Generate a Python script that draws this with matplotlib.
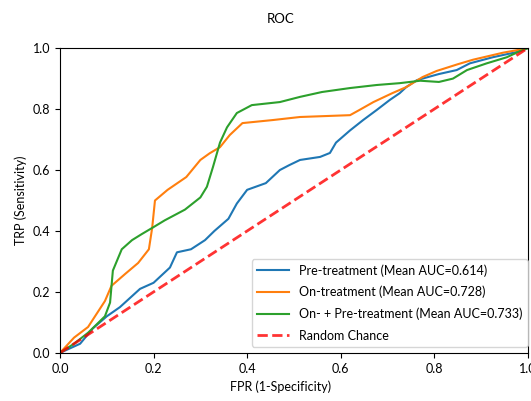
import matplotlib
matplotlib.use("Agg")
import matplotlib.pyplot as plt

plt.rcParams['font.family'] = ['Lato', 'DejaVu Sans']

pre_fpr = [0.0, 0.043, 0.07, 0.1, 0.128, 0.171, 0.2, 0.235, 0.25, 0.28, 0.31, 0.33, 0.36,
           0.378, 0.40, 0.44, 0.47, 0.49, 0.513, 0.556, 0.577, 0.59, 0.62, 0.648, 0.677,
           0.705, 0.726, 0.74, 0.763, 0.81, 0.848, 0.876, 0.925, 0.976, 1.0]
pre_tpr = [0.0, 0.03, 0.08, 0.12, 0.15, 0.21, 0.23, 0.28, 0.33, 0.34, 0.37, 0.40, 0.44,
           0.49, 0.535, 0.557, 0.60, 0.616, 0.633, 0.643, 0.656, 0.69, 0.73, 0.764, 0.797,
           0.83, 0.852, 0.872, 0.895, 0.915, 0.928, 0.95, 0.97, 0.987, 1.0]

on_fpr = [0.0, 0.03, 0.06, 0.096, 0.11, 0.14, 0.167, 0.19, 0.197, 0.203, 0.23, 0.27, 0.30,
          0.32, 0.342, 0.363, 0.39, 0.455, 0.513, 0.62, 0.64, 0.67, 0.71, 0.74, 0.775,
          0.805, 0.85, 0.883, 0.947, 0.983, 1.0]
on_tpr = [0.0, 0.05, 0.085, 0.17, 0.22, 0.26, 0.295, 0.34, 0.41, 0.50, 0.535, 0.577, 0.633,
          0.655, 0.675, 0.715, 0.754, 0.764, 0.774, 0.78, 0.797, 0.823, 0.852, 0.872, 0.905,
          0.925, 0.947, 0.962, 0.985, 0.995, 1.0]

both_fpr = [0.0, 0.03, 0.06, 0.096, 0.107, 0.113, 0.132, 0.154, 0.175, 0.197, 0.224, 0.267,
            0.30, 0.314, 0.327, 0.342, 0.357, 0.378, 0.41, 0.47, 0.513, 0.56, 0.62, 0.677,
            0.726, 0.77, 0.81, 0.84, 0.87, 0.912, 0.955, 0.983, 1.0]
both_tpr = [0.0, 0.03, 0.066, 0.12, 0.165, 0.27, 0.34, 0.37, 0.39, 0.41, 0.435, 0.47,
            0.51, 0.545, 0.61, 0.69, 0.74, 0.787, 0.813, 0.823, 0.84, 0.856, 0.869, 0.879,
            0.885, 0.893, 0.889, 0.90, 0.928, 0.95, 0.97, 0.99, 1.0]

labels = ['Pre-treatment (Mean AUC=0.614)',
          'On-treatment (Mean AUC=0.728)',
          'On- + Pre-treatment (Mean AUC=0.733)',
          'Random Chance']

fig = plt.figure(figsize=(5.31, 4.01), dpi=100)
ax = fig.add_axes([0.113, 0.12, 0.881, 0.76])

ax.plot(pre_fpr, pre_tpr, color='tab:blue', lw=1.5, label=labels[0])
ax.plot(on_fpr, on_tpr, color='tab:orange', lw=1.5, label=labels[1])
ax.plot(both_fpr, both_tpr, color='tab:green', lw=1.5, label=labels[2])
ax.plot([0, 1], [0, 1], linestyle='--', lw=2, color='r', alpha=0.8, label=labels[3])

ax.set_xlim(0, 1)
ax.set_ylim(0, 1)
ax.tick_params(labelsize=9)
ax.set_xlabel('FPR (1-Specificity)', fontsize=9, x=0.471)
ax.set_ylabel('TRP (Sensitivity)', fontsize=9)
ax.set_title('ROC', fontsize=9.5, pad=18, x=0.471)
ax.legend(loc='lower right', fontsize=9, bbox_to_anchor=(1.0, 0.02),
          borderaxespad=0, labelspacing=0.75, handlelength=2.6)

fig.savefig('out.png', dpi=100)
